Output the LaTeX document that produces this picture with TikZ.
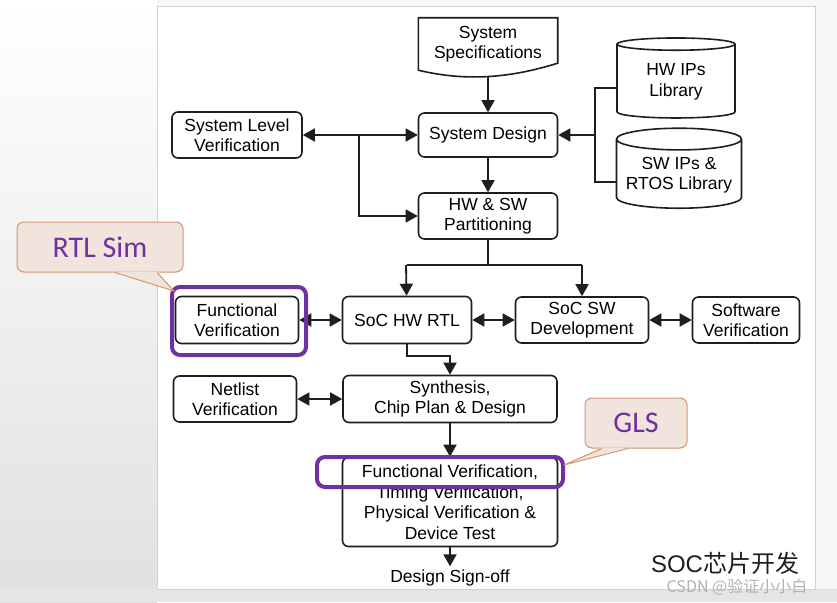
\documentclass[tikz,border=0pt]{standalone}
\usepackage{fontspec}
\setmainfont{Liberation Sans}
\newfontfamily\calloutfont{Carlito}
\newfontfamily\cjk{Noto Sans CJK SC}
\usepackage{tikz}
\usetikzlibrary{arrows.meta,shapes.geometric}

\definecolor{hilite}{RGB}{112,48,160}
\definecolor{calloutfill}{RGB}{240,228,220}
\definecolor{calloutedge}{RGB}{214,150,112}
\definecolor{ink}{RGB}{30,30,30}

\begin{document}
\begin{tikzpicture}[x=1pt,y=-1pt,
  box/.style={draw=ink,line width=1.6pt,rounded corners=6pt,align=center,inner sep=1pt,font=\fontsize{17.5}{20.5}\selectfont},
  lib/.style={draw=ink,line width=1.6pt,cylinder,shape border rotate=90,aspect=0.2,align=center,inner sep=1pt,font=\fontsize{17.5}{20.5}\selectfont},
  link/.style={draw=ink,line width=1.8pt},
  flow/.style={link,-{Triangle[width=13pt,length=12pt]}},
  both/.style={link,{Triangle[width=13pt,length=12pt]}-{Triangle[width=13pt,length=12pt]}},
  hibox/.style={draw=hilite,line width=4pt,rounded corners=8pt},
  callout/.style={draw=calloutedge,fill=calloutfill,line width=1pt,rounded corners=7pt,text=hilite,font=\calloutfont\fontsize{30}{30}\selectfont}
]
\useasboundingbox (0,0) rectangle (837,602);

% slide background
\fill[gray!6] (0,0) rectangle (837,602);
\shade[top color=white,bottom color=gray!24] (0,0) rectangle (157,602);
\fill[gray!20] (0,589) rectangle (837,602);
\draw[gray!35,line width=1pt,fill=white] (157,7) rectangle (815,589);

% top of the flow
\node [draw=none,align=center,minimum width=139pt,minimum height=52pt,inner sep=1pt,font=\fontsize{17.5}{20.5}\selectfont] (spec) at (488,44) {System\\Specifications};
\draw[draw=ink,line width=1.6pt] (spec.south west) -- (spec.north west) -- (spec.north east) -- ([yshift=7pt]spec.south east)
  .. controls +(-45pt,-14pt) and +(50pt,-12pt) .. (spec.south west) -- cycle; % document shape
\node [box,minimum width=139pt,minimum height=44pt] (sysdes) at (488,135) {System Design};
\node [box,minimum width=130pt,minimum height=46pt] (slv) at (237,135) {System Level\\Verification};
\node [box,minimum width=139pt,minimum height=46pt] (part) at (488,216) {HW \& SW\\Partitioning};

% libraries
\node [lib,minimum width=118pt,minimum height=80pt] (hwip) at (676,82) {HW IPs\\Library};
\node [lib,minimum width=125pt,minimum height=80pt] (swip) at (679,175) {SW IPs \&\\RTOS Library};

% middle row
\node [box,minimum width=123pt,minimum height=47pt] (fv) at (237,320) {Functional\\Verification};
\node [box,minimum width=129pt,minimum height=47pt] (hwrtl) at (407,320) {SoC HW RTL};
\node [box,minimum width=133pt,minimum height=46pt] (swdev) at (582,320) {SoC SW\\Development};
\node [box,minimum width=107pt,minimum height=46pt] (swver) at (746,320) {Software\\Verification};

% back end
\node [box,minimum width=123pt,minimum height=46pt] (netlist) at (235,399) {Netlist\\Verification};
\node [box,minimum width=214pt,minimum height=47pt] (synth) at (450,399) {Synthesis,\\Chip Plan \& Design};
\node [box,minimum width=215pt,minimum height=89pt] (phys) at (450,502) {Functional Verification,\\Timing Verification,\\Physical Verification \&\\Device Test};
\node [draw=none,font=\fontsize{17.5}{20.5}\selectfont] (signoff) at (450,578) {Design Sign-off};

% junctions
\coordinate (split) at (359,135);
\coordinate (libbus) at (595,135);
\coordinate (fork) at (488,265);

\draw[flow] ([yshift=-7pt]spec.south) -- (sysdes);
\draw[both] (slv) -- (sysdes);
\draw[flow] (split) |- (part);
\draw[flow] (sysdes) -- (part);
\draw[link] ([yshift=-6pt]hwip.west) -| (libbus) |- ([yshift=-7pt]swip.west);
\draw[flow] (libbus) -- (sysdes);
\draw[link] (part) -- (fork);
\draw[flow] ([xshift=-1pt]fork -| hwrtl) -- (hwrtl); % left branch
\draw[link] (fork -| hwrtl) -- (fork -| swdev);
\draw[flow] (fork -| swdev) -- (swdev); % right branch
\draw[both] (fv) -- (hwrtl);
\draw[both] (hwrtl) -- (swdev);
\draw[both] (swdev) -- (swver);
\draw[flow] (hwrtl.south) -- ++(0,12) -| (synth);
\draw[both] (netlist) -- (synth);
\draw[flow] (synth) -- (phys);
\draw[flow] (phys) -- (signoff);

% highlights and callouts
\node [hibox,minimum width=134pt,minimum height=68pt] (rtlmark) at (239,321) {};
\node [hibox,minimum width=246pt,minimum height=30pt] (glsmark) at (440,472) {};

\node [callout,minimum width=166pt,minimum height=50pt] (rtlsim) at (100,247) {RTL Sim};
\coordinate (rtltip) at (174,291);
\fill[calloutfill] ([xshift=15pt,yshift=1pt]rtlsim.south) -- (rtltip) -- ([xshift=57pt,yshift=1pt]rtlsim.south) -- cycle;
\draw[calloutedge,line width=1pt] ([xshift=15pt]rtlsim.south) -- (rtltip) -- ([xshift=57pt]rtlsim.south);

\node [callout,minimum width=102pt,minimum height=50pt] (gls) at (636,423) {GLS};
\coordinate (glstip) at (564,465);
\fill[calloutfill] ([xshift=-34pt,yshift=1pt]gls.south) -- (glstip) -- ([xshift=-8pt,yshift=1pt]gls.south) -- cycle;
\draw[calloutedge,line width=1pt] ([xshift=-34pt]gls.south) -- (glstip) -- ([xshift=-8pt]gls.south);

% caption and watermark
\node [draw=none,text=ink,font=\fontsize{24}{24}\selectfont] (title) at (725,563) {SOC{\cjk 芯片开发}};
\node [draw=none,text=gray!60,font=\cjk\fontsize{16}{16}\selectfont] (wmark) at (737,587) {CSDN @验证小小白};

\end{tikzpicture}
\end{document}
